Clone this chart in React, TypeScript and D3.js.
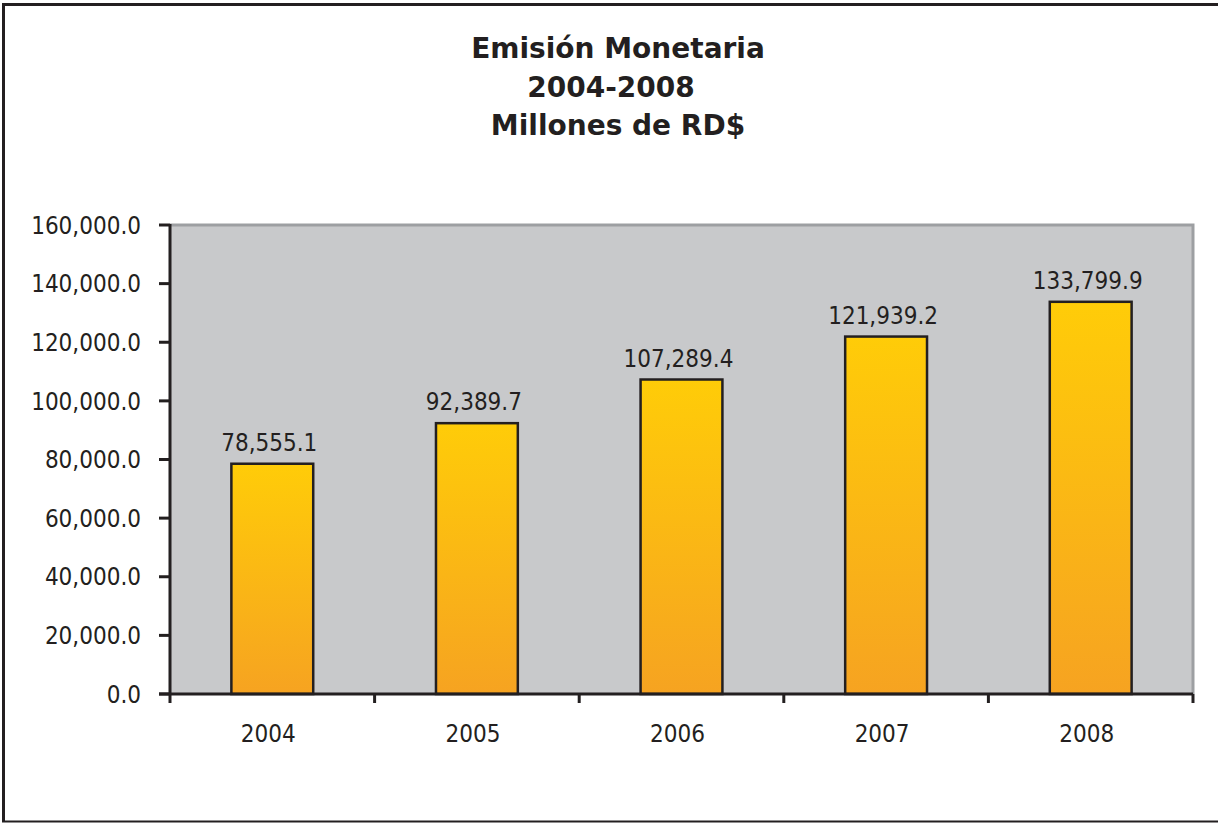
import React from "react"
import * as d3 from "d3"

// data
const years = ["2004", "2005", "2006", "2007", "2008"]
const emision = [78555.1, 92389.7, 107289.4, 121939.2, 133799.9]
const yTicks = [0, 20000, 40000, 60000, 80000, 100000, 120000, 140000, 160000]
const titleLines = ["Emisión Monetaria", "2004-2008", "Millones de RD$"]

const W = 1218
const H = 823
const plot = { left: 170, top: 225, right: 1193, bottom: 694 }
const ink = "#231f20"
const labelFont = "'DejaVu Sans Condensed', 'DejaVu Sans', sans-serif"

export default function App() {
    const x = d3.scaleBand<string>()
        .domain(years)
        .range([plot.left, plot.right])
        .paddingInner(0.6)
        .paddingOuter(0.3)

    const y = d3.scaleLinear()
        .domain([0, 160000])
        .range([plot.bottom, plot.top])

    const fmt = d3.format(",.1f")
    const step = x.step()
    // category boundaries for the bottom ticks
    const bounds = years.map(d => (x(d) as number) - step * 0.3).concat([plot.right])

    return (
        <svg width={W} height={H} style={{ position: "absolute", left: 0, top: 0, background: "#fff" }}>
            <defs>
                <linearGradient id="barFill" x1="0" y1="0" x2="0" y2="1">
                    <stop offset="0%" stopColor="#ffcc08" />
                    <stop offset="100%" stopColor="#f6a321" />
                </linearGradient>
            </defs>

            {/* outer frame */}
            <line x1={3.5} x2={3.5} y1={3} y2={822} stroke={ink} strokeWidth={3} />
            <line x1={2} x2={W} y1={4.5} y2={4.5} stroke={ink} strokeWidth={3} />
            <line x1={2} x2={W} y1={821.5} y2={821.5} stroke={ink} strokeWidth={2} />

            {/* title */}
            <g fontFamily="'DejaVu Sans', sans-serif" fontWeight="bold" fontSize={28} fill={ink} textAnchor="middle">
                {titleLines.map((t, i) => (
                    <text key={t} x={i === 1 ? 611 : 618} y={58 + i * 38.5}>{t}</text>
                ))}
            </g>

            {/* plot area */}
            <rect x={plot.left} y={plot.top} width={plot.right - plot.left} height={plot.bottom - plot.top} fill="#c8c9cb" />
            <path d={`M${plot.left},${plot.top} H${plot.right} V${plot.bottom}`} fill="none" stroke="#9d9fa2" strokeWidth={3} />

            {/* bars */}
            {years.map((d, i) => (
                <rect key={d}
                    x={x(d)}
                    y={y(emision[i])}
                    width={x.bandwidth()}
                    height={y(0) - y(emision[i])}
                    fill="url(#barFill)"
                    stroke={ink}
                    strokeWidth={2.5} />
            ))}

            {/* value labels */}
            <g fontFamily={labelFont} fontSize={24} fill={ink} textAnchor="middle">
                {years.map((d, i) => (
                    <text key={d} x={(x(d) as number) + x.bandwidth() / 2 - 3} y={y(emision[i]) - 13}>{fmt(emision[i])}</text>
                ))}
            </g>

            {/* y axis */}
            <line x1={plot.left} x2={plot.left} y1={plot.top - 1} y2={plot.bottom + 1} stroke={ink} strokeWidth={3} />
            <g fontFamily={labelFont} fontSize={24} fill={ink} textAnchor="end">
                {yTicks.map(t => (
                    <g key={t}>
                        <line x1={plot.left - 11} x2={plot.left} y1={y(t)} y2={y(t)} stroke={ink} strokeWidth={3} />
                        <text x={plot.left - 29} y={y(t)} dy="0.36em">{fmt(t)}</text>
                    </g>
                ))}
            </g>

            {/* x axis */}
            <line x1={plot.left - 11} x2={plot.right} y1={plot.bottom} y2={plot.bottom} stroke={ink} strokeWidth={3} />
            {bounds.map((b, i) => (
                <line key={i} x1={b} x2={b} y1={plot.bottom} y2={plot.bottom + 9} stroke={ink} strokeWidth={3} />
            ))}
            <g fontFamily={labelFont} fontSize={24} fill={ink} textAnchor="middle">
                {years.map(d => (
                    <text key={d} x={(x(d) as number) + x.bandwidth() / 2 - 4} y={742}>{d}</text>
                ))}
            </g>
        </svg>
    )
}
